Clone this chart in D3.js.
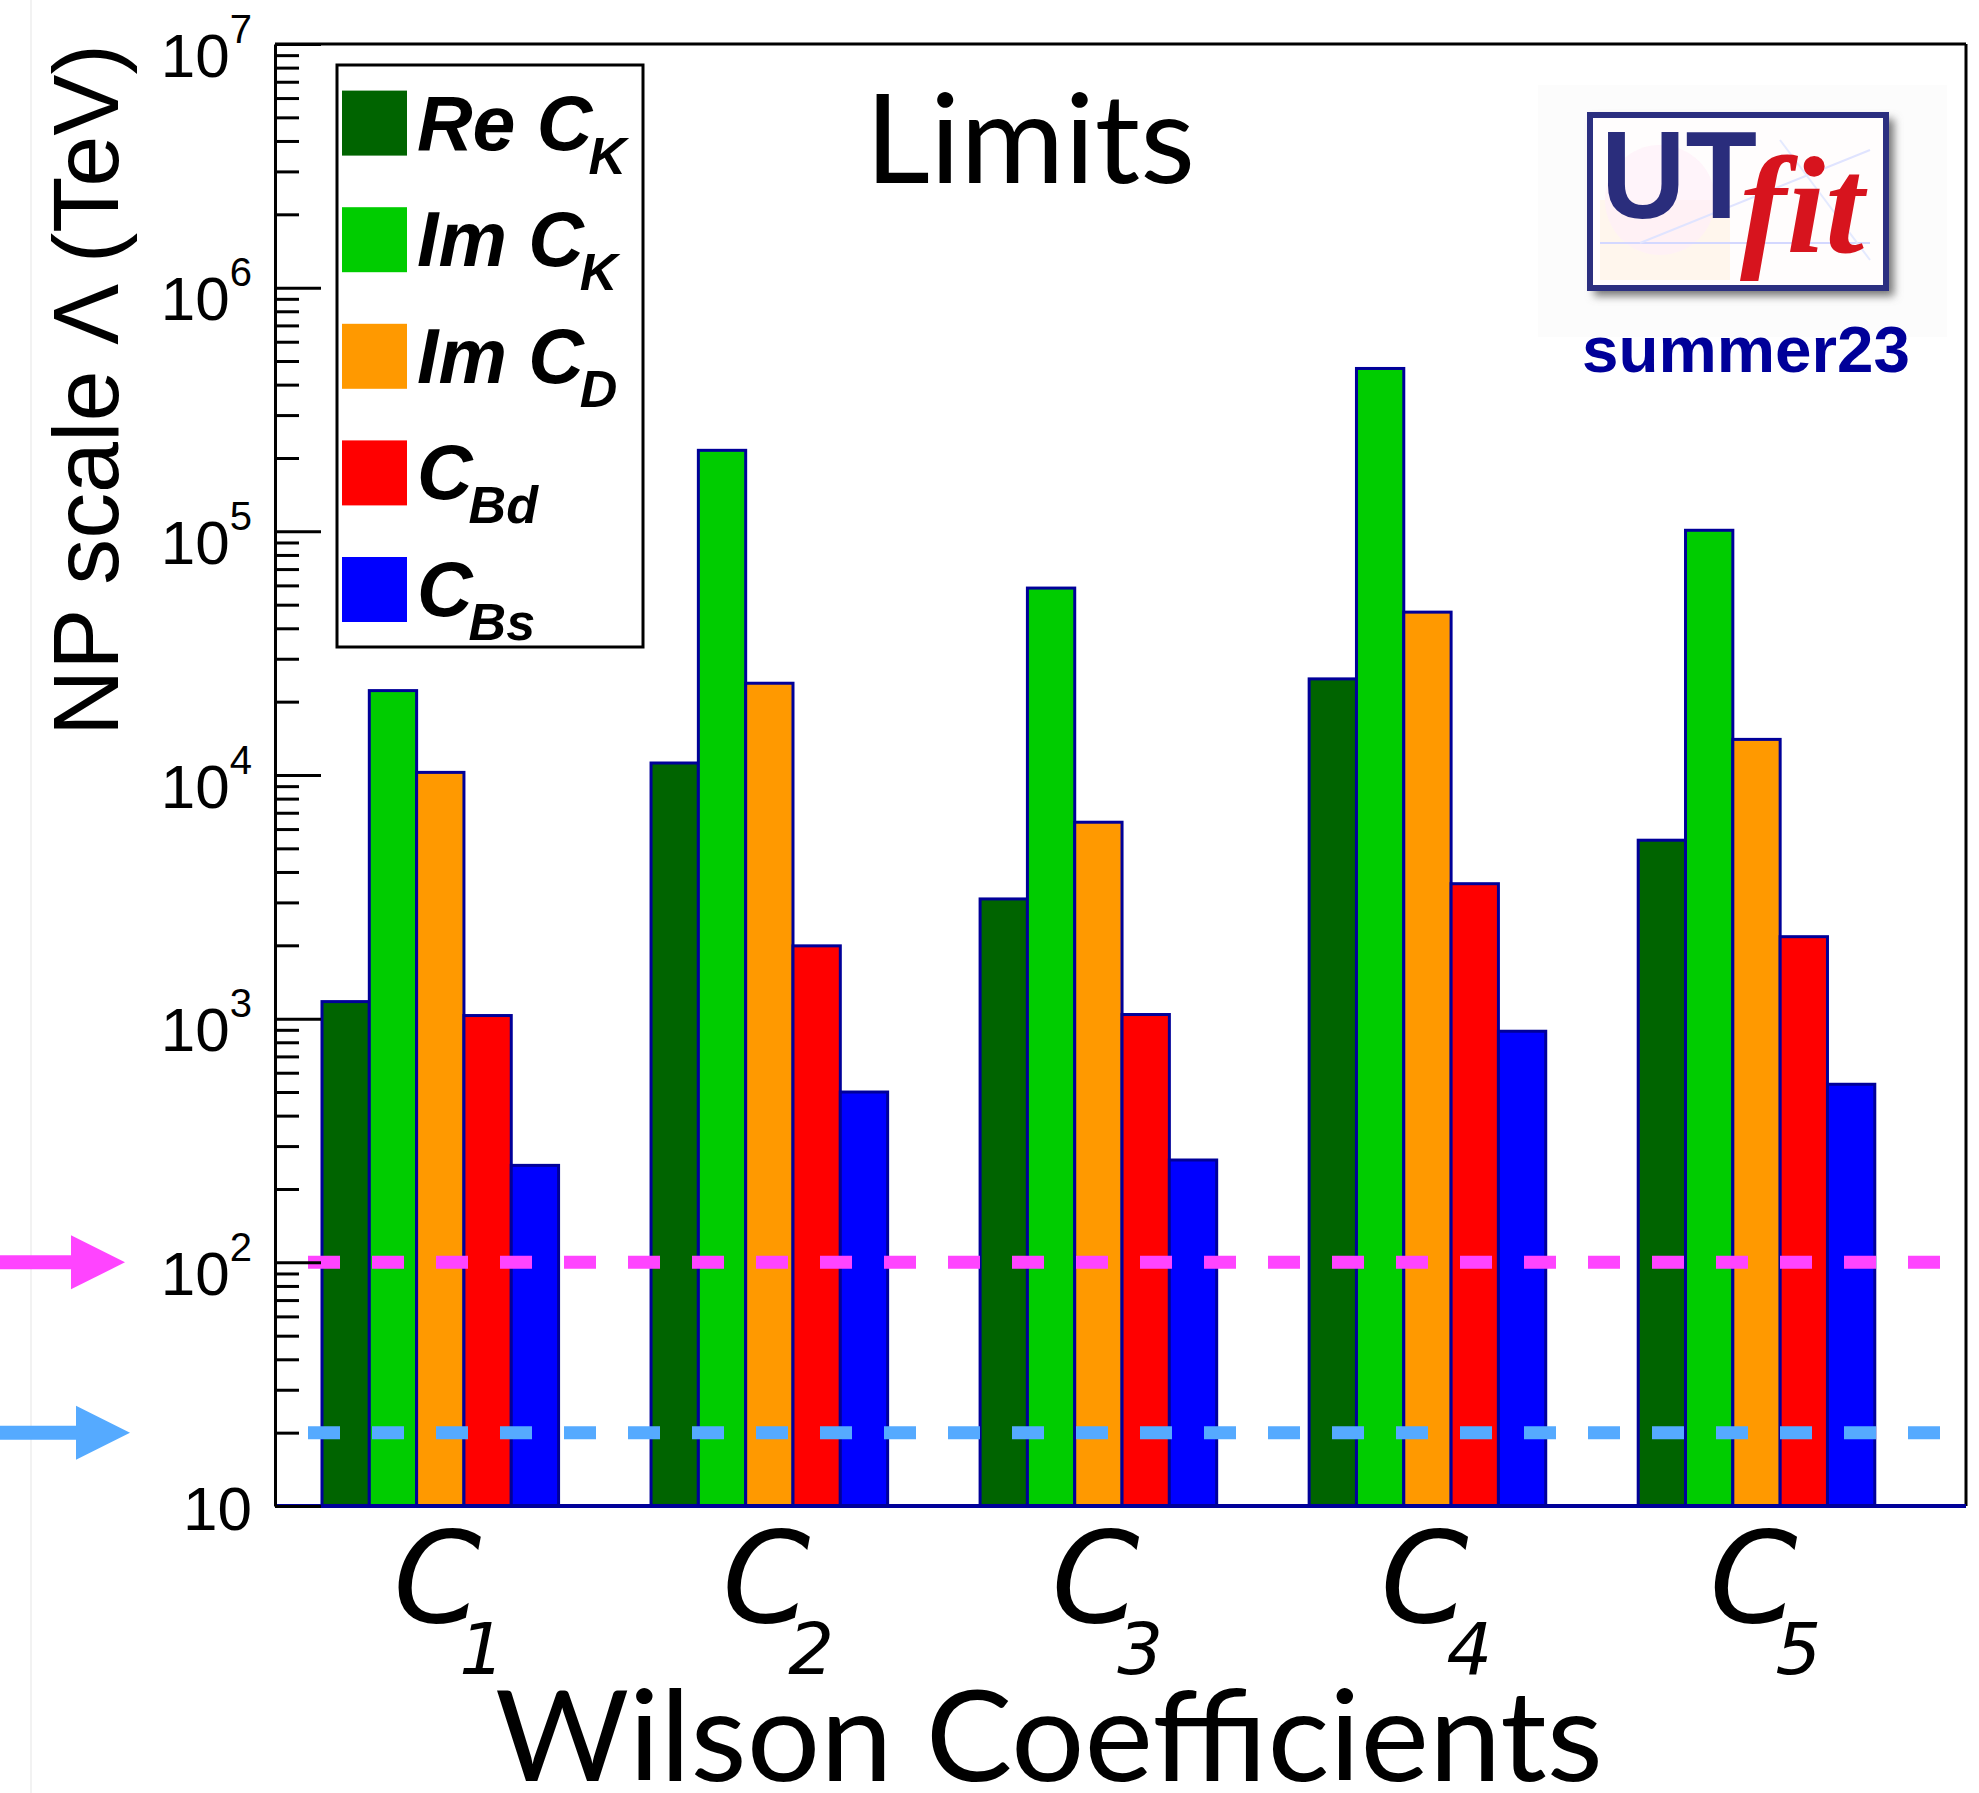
<!DOCTYPE html>
<html>
<head>
<meta charset="utf-8">
<script src="https://cdn.jsdelivr.net/npm/d3@7"></script>
<style>
  body { margin: 0; background: #fff; }
</style>
</head>
<body>
<div id="container"></div>
<script>
/* CONSTANTS AND GLOBALS */
const width = 1979;
const height = 1793;
const frame = { left: 275, right: 1966, top: 44, bottom: 1506 };

/* DATA */
const coeffs = ["C1", "C2", "C3", "C4", "C5"];
const coeffSubs = ["1", "2", "3", "4", "5"];
const seriesMain = ["Re C", "Im C", "Im C", "C", "C"];
const seriesSub = ["K", "K", "D", "Bd", "Bs"];
const seriesColors = ["#006400", "#00cc00", "#ff9900", "#ff0000", "#0000ff"];
const reCK = [1175, 11200, 3100, 24800, 5400];
const imCK = [22200, 215000, 58500, 466000, 101000];
const imCD = [10250, 23800, 6400, 46600, 14000];
const cBd = [1030, 1990, 1040, 3580, 2170];
const cBs = [250, 500, 263, 888, 538];
const limitLines = [100, 20];
const limitColors = ["#ff44ff", "#55aaff"];
const yMajors = [10, 1e2, 1e3, 1e4, 1e5, 1e6, 1e7];

const seriesValues = [reCK, imCK, imCD, cBd, cBs];

const svg = d3.select("#container")
  .append("svg")
  .attr("width", width)
  .attr("height", height)
  .style("background", "#fff");

/* SCALES */
const x = d3.scaleBand()
  .domain(coeffs)
  .range([frame.left, frame.right])
  .paddingInner(0.281)
  .paddingOuter(0.21)
  .align(0.34);

const xs = d3.scaleBand()
  .domain(d3.range(seriesMain.length))
  .range([0, x.bandwidth()]);

const y = d3.scaleLog()
  .domain([10, 1e7])
  .range([frame.bottom, frame.top]);

// faint border line at far left
svg.append("line")
  .attr("x1", 31).attr("x2", 31).attr("y1", 0).attr("y2", height)
  .attr("stroke", "#f2f2f2").attr("stroke-width", 2);

/* BARS */
const groups = svg.selectAll(".grp")
  .data(coeffs)
  .join("g")
  .attr("class", "grp")
  .attr("transform", d => `translate(${x(d)},0)`);

groups.selectAll("rect")
  .data((c, ci) => seriesValues.map((vals, si) => ({ si, v: vals[ci] })))
  .join("rect")
  .attr("x", d => xs(d.si))
  .attr("width", xs.bandwidth())
  .attr("y", d => y(d.v))
  .attr("height", d => frame.bottom - y(d.v))
  .attr("fill", d => seriesColors[d.si])
  .attr("stroke", "#000099")
  .attr("stroke-width", 3);

/* LIMIT LINES */
svg.selectAll(".limit")
  .data(limitLines)
  .join("line")
  .attr("class", "limit")
  .attr("x1", 308).attr("x2", 1944)
  .attr("y1", d => y(d)).attr("y2", d => y(d))
  .attr("stroke", (d, i) => limitColors[i])
  .attr("stroke-width", 13)
  .attr("stroke-dasharray", "32 32");

// arrows on the left
limitLines.forEach((v, i) => {
  const yy = y(v);
  const shaftEnd = i === 0 ? 75 : 80;
  const tip = i === 0 ? 125 : 130;
  svg.append("line")
    .attr("x1", 0).attr("x2", shaftEnd)
    .attr("y1", yy).attr("y2", yy)
    .attr("stroke", limitColors[i]).attr("stroke-width", 14);
  svg.append("polygon")
    .attr("points", `${tip - 54},${yy - 27} ${tip},${yy} ${tip - 54},${yy + 27}`)
    .attr("fill", limitColors[i]);
});

/* FRAME */
svg.append("line")
  .attr("x1", frame.left).attr("x2", frame.right)
  .attr("y1", frame.top).attr("y2", frame.top)
  .attr("stroke", "#000").attr("stroke-width", 3);
svg.append("line")
  .attr("x1", frame.right).attr("x2", frame.right)
  .attr("y1", frame.top).attr("y2", frame.bottom)
  .attr("stroke", "#000").attr("stroke-width", 3);
svg.append("line")
  .attr("x1", frame.left).attr("x2", frame.right)
  .attr("y1", frame.bottom).attr("y2", frame.bottom)
  .attr("stroke", "#000099").attr("stroke-width", 4);

/* AXES */
const minors = [];
for (let k = 1; k < 7; k++) {
  for (let m = 2; m < 10; m++) minors.push(m * Math.pow(10, k));
}

const minorAxis = svg.append("g")
  .attr("transform", `translate(${frame.left},0)`)
  .call(d3.axisLeft(y).tickValues(minors).tickSize(-24).tickSizeOuter(0).tickFormat(""));
minorAxis.select(".domain").remove();
minorAxis.selectAll(".tick line").attr("stroke", "#000").attr("stroke-width", 3);

const yAxis = svg.append("g")
  .attr("transform", `translate(${frame.left},0)`)
  .call(d3.axisLeft(y).tickValues(yMajors).tickSize(-46).tickSizeOuter(0).tickPadding(23));
yAxis.select(".domain").attr("stroke", "#000").attr("stroke-width", 3);
yAxis.selectAll(".tick line").attr("stroke", "#000").attr("stroke-width", 3);
yAxis.selectAll(".tick text")
  .attr("font-family", "'Liberation Sans', Arial, sans-serif")
  .attr("font-size", 62)
  .attr("fill", "#000")
  .attr("dy", null)
  .each(function (d) {
    const t = d3.select(this);
    const k = Math.round(Math.log10(d));
    t.text("");
    if (k === 1) {
      t.attr("y", 23).append("tspan").text("10");
    } else {
      t.attr("y", 32);
      t.append("tspan").text("10");
      t.append("tspan").attr("dy", -34).attr("font-size", 40).text(k);
    }
  });

// y axis title
svg.append("text")
  .attr("transform", "translate(118,390) rotate(-90)")
  .attr("text-anchor", "middle")
  .attr("font-family", "'Liberation Sans', Arial, sans-serif")
  .attr("font-size", 92)
  .attr("textLength", 692)
  .attr("lengthAdjust", "spacingAndGlyphs")
  .text("NP scale \u039B (TeV)");

// x labels
const xLabels = svg.selectAll(".xlab")
  .data(coeffs)
  .join("text")
  .attr("class", "xlab")
  .attr("x", d => x(d) + x.bandwidth() / 2 - 47)
  .attr("y", 1622)
  .attr("font-family", "'DejaVu Sans', sans-serif")
  .attr("font-style", "italic")
  .attr("font-size", 126);
xLabels.append("tspan").text("C");
xLabels.append("tspan")
  .attr("dx", -22).attr("dy", 52)
  .attr("font-size", 72)
  .text((d, i) => coeffSubs[i]);

// x axis title
svg.append("text")
  .attr("x", 1049).attr("y", 1781)
  .attr("text-anchor", "middle")
  .attr("font-family", "Lato, 'Open Sans', sans-serif")
  .attr("font-size", 126)
  .attr("textLength", 1108)
  .attr("lengthAdjust", "spacingAndGlyphs")
  .text("Wilson Coefficients");

// title
svg.append("text")
  .attr("x", 1030).attr("y", 183)
  .attr("text-anchor", "middle")
  .attr("font-family", "Lato, 'Open Sans', sans-serif")
  .attr("font-size", 125)
  .attr("textLength", 330)
  .attr("lengthAdjust", "spacingAndGlyphs")
  .text("Limits");

/* LEGEND */
const legend = svg.append("g");
legend.append("rect")
  .attr("x", 337).attr("y", 65)
  .attr("width", 306).attr("height", 582)
  .attr("fill", "#fff")
  .attr("stroke", "#000").attr("stroke-width", 3);

const entries = legend.selectAll(".entry")
  .data(seriesMain)
  .join("g")
  .attr("class", "entry")
  .attr("transform", (d, i) => `translate(0,${90.6 + i * 116.6})`);

entries.append("rect")
  .attr("x", 342).attr("y", 0)
  .attr("width", 65).attr("height", 65)
  .attr("fill", (d, i) => seriesColors[i]);

const lt = entries.append("text")
  .attr("x", 417).attr("y", 59)
  .attr("font-family", "'Liberation Sans', Arial, sans-serif")
  .attr("font-weight", "bold")
  .attr("font-style", "italic")
  .attr("font-size", 77);
lt.append("tspan").text(d => d);
lt.append("tspan")
  .attr("dx", -4).attr("dy", 24)
  .attr("font-size", 52)
  .text((d, i) => seriesSub[i]);

/* LOGO */
const logo = svg.append("g");
logo.append("rect")
  .attr("x", 1538).attr("y", 85).attr("width", 409).attr("height", 252)
  .attr("fill", "#fcfcfc");
const defs = svg.append("defs");
defs.append("filter").attr("id", "blur")
  .append("feGaussianBlur").attr("stdDeviation", 4);
logo.append("rect")
  .attr("x", 1594).attr("y", 119).attr("width", 300).attr("height", 177)
  .attr("fill", "#777").attr("filter", "url(#blur)");
logo.append("rect")
  .attr("x", 1590).attr("y", 115).attr("width", 296).attr("height", 173)
  .attr("fill", "#fffdfd")
  .attr("stroke", "#2b2f80").attr("stroke-width", 6);
// faint background decoration
logo.append("rect")
  .attr("x", 1600).attr("y", 200).attr("width", 130).attr("height", 80)
  .attr("fill", "#fff4e8").attr("opacity", 0.8);
logo.append("circle")
  .attr("cx", 1660).attr("cy", 200).attr("r", 55)
  .attr("fill", "#fff0f8").attr("opacity", 0.7);
logo.append("line")
  .attr("x1", 1600).attr("x2", 1870).attr("y1", 243).attr("y2", 243)
  .attr("stroke", "#d4d8ff").attr("stroke-width", 2);
logo.append("line")
  .attr("x1", 1640).attr("x2", 1870).attr("y1", 243).attr("y2", 150)
  .attr("stroke", "#e0e4ff").attr("stroke-width", 2);
logo.append("line")
  .attr("x1", 1780).attr("x2", 1870).attr("y1", 140).attr("y2", 260)
  .attr("stroke", "#e4eaff").attr("stroke-width", 2);
logo.append("text")
  .attr("x", 1601).attr("y", 218)
  .attr("font-family", "'Liberation Sans', Arial, sans-serif")
  .attr("font-weight", "bold")
  .attr("font-size", 125)
  .attr("textLength", 156)
  .attr("lengthAdjust", "spacingAndGlyphs")
  .attr("fill", "#2a2d7c")
  .text("UT");
logo.append("text")
  .attr("x", 1740).attr("y", 252)
  .attr("font-family", "'Liberation Serif', 'DejaVu Serif', serif")
  .attr("font-style", "italic")
  .attr("font-weight", "bold")
  .attr("font-size", 138)
  .attr("textLength", 124)
  .attr("lengthAdjust", "spacingAndGlyphs")
  .attr("fill", "#d7141e")
  .text("fit");
logo.append("text")
  .attr("x", 1582).attr("y", 372)
  .attr("font-family", "'Liberation Sans', Arial, sans-serif")
  .attr("font-weight", "bold")
  .attr("font-size", 64)
  .attr("textLength", 328)
  .attr("lengthAdjust", "spacingAndGlyphs")
  .attr("fill", "#000099")
  .text("summer23");
</script>
</body>
</html>
